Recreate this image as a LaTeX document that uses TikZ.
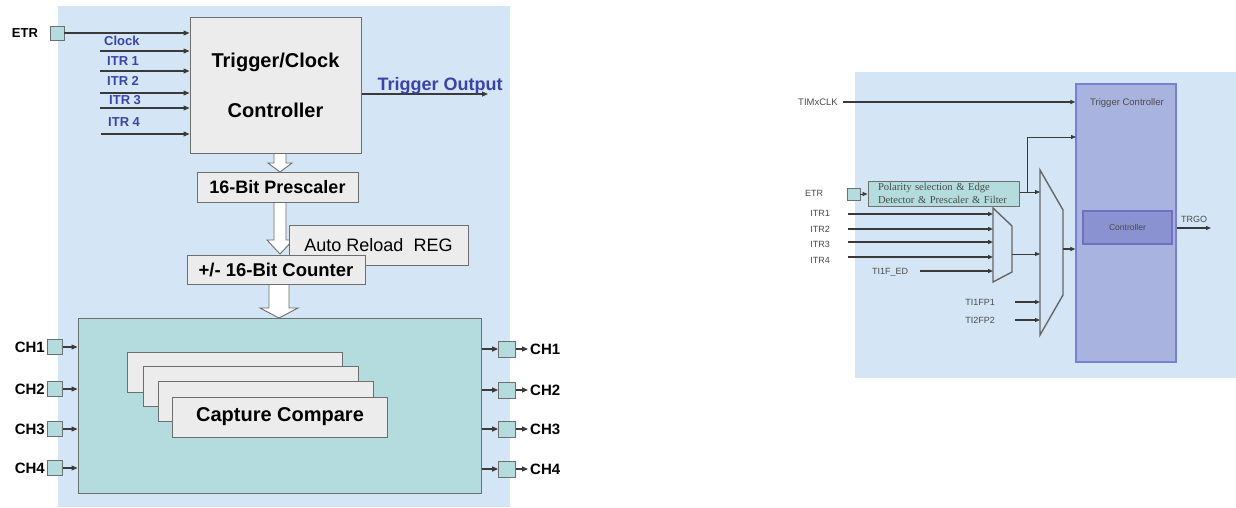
\documentclass[tikz,border=0pt]{standalone}
\usepackage{fontspec}
\setmainfont{Liberation Sans}
\newfontfamily\serifx{Liberation Serif}
\usetikzlibrary{arrows.meta}
\definecolor{lbg}{HTML}{D4E6F5}
\definecolor{tealf}{HTML}{B4DCDF}
\definecolor{gboxf}{HTML}{ECECEC}
\definecolor{gbord}{HTML}{6E6E6E}
\definecolor{blu}{HTML}{3A44A8}
\definecolor{tcfill}{HTML}{A9B3DF}
\definecolor{tcbord}{HTML}{7A7ED6}
\definecolor{ctrlfill}{HTML}{8A92D2}
\definecolor{rtext}{HTML}{4A4A4A}
\definecolor{lline}{HTML}{3A3A3A}
\tikzset{
  gbox/.style={draw=gbord, fill=gboxf, line width=1pt, inner sep=0pt},
  portbox/.style={draw=gbord, fill=tealf, line width=0.8pt, inner sep=0pt, minimum width=15, minimum height=15},
  inl/.style={draw=lline, line width=1.2pt, -{Triangle[length=6pt,width=5pt]}},
  lbl/.style={font=\bfseries\fontsize{13}{15}\selectfont, text=blu, inner sep=0pt, anchor=west},
  chl/.style={font=\bfseries\fontsize{15}{17}\selectfont, inner sep=0pt},
  hollow/.style={draw=gbord, fill=white, line width=0.9pt},
  rl/.style={draw=lline, line width=1.1pt, -{Triangle[length=5pt,width=4pt]}},
  rtx/.style={text=rtext, font=\fontsize{9}{11}\selectfont, inner sep=0pt},
  mux/.style={draw=gray!80!black, line width=1.4pt, fill=lbg}
}
\begin{document}
\begin{tikzpicture}[x=1pt,y=-1pt]
\useasboundingbox (0,0) rectangle (1236,507);
\fill[white] (0,0) rectangle (1236,507);
% ---------- left panel ----------
\fill[lbg] (58,6) rectangle (510,507);

% hollow arrows (behind boxes)
\draw[hollow] (274,152) -- (286,152) -- (286,163) -- (292,163) -- (280,172) -- (268,163) -- (274,163) -- cycle;
\draw[hollow] (274,201) -- (286,201) -- (286,240) -- (293,240) -- (280,254) -- (267,240) -- (274,240) -- cycle;
\draw[hollow] (269,283) -- (289,283) -- (289,308) -- (298,308) -- (279,318) -- (260,308) -- (269,308) -- cycle;

\node[gbox, minimum width=171, minimum height=136, align=center,
      font=\bfseries\fontsize{20}{50}\selectfont] (tcc) at (275.5,85) {Trigger/Clock\\Controller};
\node[gbox, minimum width=161, minimum height=30, font=\bfseries\fontsize{18}{20}\selectfont] (presc) at (277.5,187) {16-Bit Prescaler};
\node[gbox, minimum width=179, minimum height=40, font=\fontsize{18}{20}\selectfont] (arr) at (378.5,245) {Auto Reload\ \ REG};
\node[gbox, minimum width=178, minimum height=29, font=\bfseries\fontsize{18.5}{20}\selectfont] (cnt) at (276,269.5) {+/- 16-Bit Counter};

% ETR and inputs
\node[font=\bfseries\fontsize{13}{15}\selectfont, inner sep=0pt] (etrL) at (25,33) {ETR};
\node[portbox, minimum width=14, minimum height=14] (etrLp) at (57,33) {};
\draw[inl] (etrLp.east) -- (tcc.west |- etrLp);
\node[lbl] (lclk) at (104,41) {Clock};
\node[lbl] (litr1) at (107,61) {ITR 1};
\node[lbl] (litr2) at (107,81) {ITR 2};
\node[lbl] (litr3) at (109,100) {ITR 3};
\node[lbl] (litr4) at (108,122) {ITR 4};
\coordinate (i1) at (100,51);
\coordinate (i2) at (100,71);
\coordinate (i3) at (100,93);
\coordinate (i4) at (100,108);
\coordinate (i5) at (101,134);
\foreach \c in {i1,i2,i3,i4,i5} { \draw[inl] (\c) -- (tcc.west |- \c); }

% trigger output
\coordinate (tout) at (488,94);
\draw[inl] (tcc.east |- tout) -- (tout);
\node[font=\bfseries\fontsize{18}{20}\selectfont, text=blu, inner sep=0pt, anchor=base] (toutl) at (440,90) {Trigger Output};

% big channel box
\node[draw=gbord, fill=tealf, line width=1pt, minimum width=403, minimum height=175, inner sep=0pt] (chbox) at (279.5,405.5) {};

% capture compare stack (back cards: their text is hidden by the cards in front)
\foreach \n/\cx/\cy in {cc1/235/372.5, cc2/250.5/386, cc3/265.5/401.5} {
  \node[gbox, minimum width=215, minimum height=40] (\n) at (\cx,\cy) {};
}
\node[gbox, minimum width=215, minimum height=40, font=\bfseries\fontsize{20}{22}\selectfont] (cc4) at (280,417) {Capture Compare};

% left channel ports
\foreach \i/\y in {1/347, 2/389, 3/429, 4/468} {
  \node[portbox] (chin\i) at (55,\y) {};
  \node[chl, anchor=east] (chinl\i) at (45,\y) {CH\i};
  \draw[inl] (chin\i.east) -- (chbox.west |- chin\i);
}
% right channel ports
\foreach \i/\y in {1/349, 2/390, 3/429, 4/469} {
  \node[portbox, minimum width=17, minimum height=16] (chout\i) at (507,\y) {};
  \draw[inl] (chbox.east |- chout\i) -- (chout\i.west);
  \coordinate (choe\i) at (528,\y);
  \draw[inl] (chout\i.east) -- (choe\i);
  \node[chl, anchor=west] (choutl\i) at (530,\y) {CH\i};
}

% ---------- right panel ----------
\fill[lbg] (855,72) rectangle (1236,378);

\node[draw=tcbord, fill=tcfill, line width=1.2pt, minimum width=100, minimum height=278, inner sep=0pt] (tc) at (1126,223) {};
\node[rtx, font=\fontsize{9.5}{11}\selectfont] (tct) at (1127,103) {Trigger Controller};
\node[draw=tcbord!90!black, fill=ctrlfill, line width=1.2pt, minimum width=89, minimum height=33, inner sep=0pt, rtx, font=\fontsize{8.5}{10}\selectfont] (ctrl) at (1127.5,227.5) {Controller};
\coordinate (trgo) at (1211,228);
\draw[rl] (tc.east |- trgo) -- (trgo);
\node[rtx] (trgol) at (1194,219) {TRGO};

% TIMxCLK
\node[rtx, font=\fontsize{9.5}{11}\selectfont] (timx) at (818,102) {TIMxCLK};
\coordinate (timxs) at (843,102);
\draw[rl] (timxs) -- (tc.west |- timxs);

% ETR + filter
\node[rtx] (etrR) at (814,193) {ETR};
\node[draw=gbord, fill=tealf, line width=0.8pt, inner sep=0pt, minimum width=13, minimum height=12] (etrRp) at (853.5,194) {};
\node[draw=gbord, fill=tealf, line width=1pt, inner xsep=10pt, inner ysep=0pt, text width=131pt, minimum height=25, align=left,
      font=\serifx\fontsize{10.6}{13}\selectfont, text=rtext] (filt) at (943.5,193.5) {Polarity selection \& Edge\\Detector \& Prescaler \& Filter};
\draw[rl, line width=0.8pt] (etrRp.east) -- (filt.west |- etrRp);

% muxes
\draw[mux] (993,208) -- (1012,226) -- (1012,272) -- (993,282) -- cycle;
\draw[mux] (1040,170) -- (1063,210) -- (1063,295) -- (1040,335) -- cycle;
\coordinate (bm1) at (1040,192);
\coordinate (bm2) at (1040,254);
\coordinate (bm3) at (1040,302);
\coordinate (bm4) at (1040,320);
\coordinate (bmo) at (1063,249);
\coordinate (smo) at (1012,254);
\coordinate (br) at (1027,192);
\coordinate (tcin2) at (1076,137);

\draw[rl, line width=0.8pt] (filt.east |- bm1) -- (bm1);
\draw[rl, line width=0.8pt] (br) |- (tcin2);
\draw[rl, line width=0.8pt] (smo) -- (bm2);
\draw[rl] (bmo) -- (tc.west |- bmo);

% ITR inputs to small mux
\foreach \n/\ly/\y in {ITR1/213/214, ITR2/229/229, ITR3/244/242, ITR4/260/257} {
  \node[rtx] (l\n) at (820,\ly) {\n};
  \coordinate (s\n) at (848,\y);
  \coordinate (e\n) at (993,\y);
  \draw[rl, line width=1.5pt] (s\n) -- (e\n);
}
\node[rtx] (ltif) at (890,272) {TI1F\_ED};
\coordinate (stif) at (920,271);
\coordinate (etif) at (993,271);
\draw[rl] (stif) -- (etif);

\node[rtx] (ltp1) at (980,302) {TI1FP1};
\node[rtx] (ltp2) at (980,320) {TI2FP2};
\coordinate (sp1) at (1015,302);
\coordinate (sp2) at (1015,320);
\draw[rl] (sp1) -- (bm3);
\draw[rl] (sp2) -- (bm4);
\end{tikzpicture}
\end{document}
